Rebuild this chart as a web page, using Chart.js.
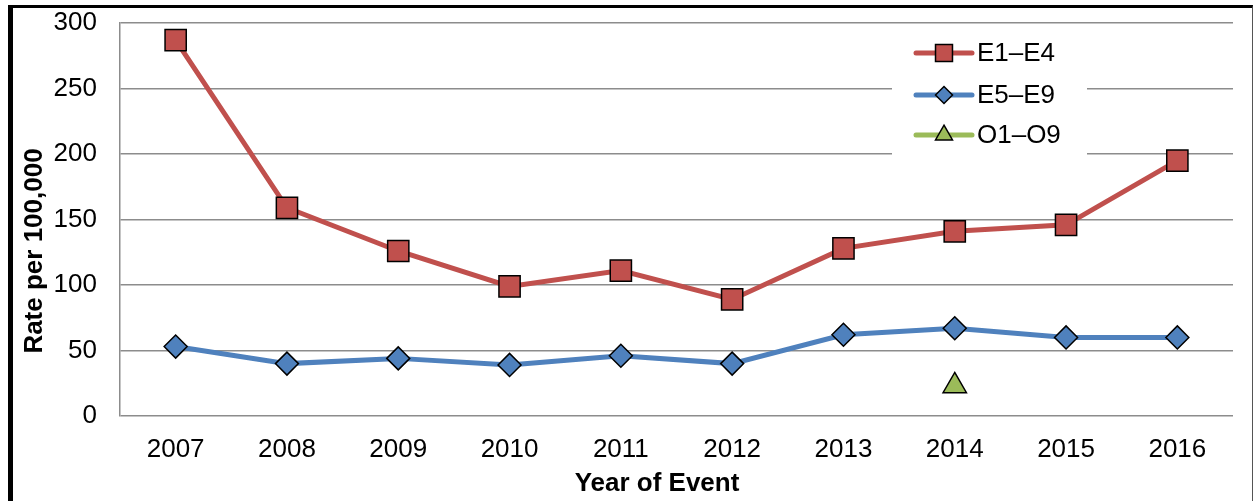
<!DOCTYPE html>
<html>
<head>
<meta charset="utf-8">
<script src="https://cdn.jsdelivr.net/npm/chart.js@4/dist/chart.umd.min.js"></script>
<style>
  html, body { margin: 0; padding: 0; background: #fff; }
  #wrap { position: relative; width: 1257px; height: 501px; }
  #frame {
    position: absolute; left: 8px; top: 5px; width: 1239px; height: 520px;
    border-top: 3px solid #000; border-left: 5px solid #000; border-right: 1px solid #555;
    pointer-events: none;
  }
</style>
</head>
<body>
<div id="wrap">
  <canvas id="grafico" width="1257" height="501"></canvas>
  <div id="frame"></div>
</div>
<script>
// --- DATOS ---
const years = ['2007', '2008', '2009', '2010', '2011', '2012', '2013', '2014', '2015', '2016'];
const e1e4 = [287, 159, 126, 99, 111, 89, 128, 141, 146, 195];
const e5e9 = [53, 40, 44, 39, 46, 40, 62, 67, 60, 60];
const o1o9 = [null, null, null, null, null, null, null, 23, null, null];
const seriesNames = ['E1\u2013E4', 'E5\u2013E9', 'O1\u2013O9'];
const xTitle = 'Year of Event';
const yTitle = 'Rate per 100,000';

const FONT = '"Liberation Sans", Arial, sans-serif';

// leyenda y títulos dibujados a mano, como en Excel
const excelPlugin = {
    id: 'excelExtras',
    afterDraw(chart) {
        const ctx = chart.ctx;
        ctx.save();

        // títulos de ejes (no centrados en el área, como el original)
        ctx.fillStyle = '#000';
        ctx.font = 'bold 26px ' + FONT;
        ctx.textAlign = 'center';
        ctx.textBaseline = 'middle';
        ctx.fillText(xTitle, 657, 484);
        ctx.save();
        ctx.translate(35, 251);
        ctx.rotate(-Math.PI / 2);
        ctx.fillText(yTitle, 0, 0);
        ctx.restore();

        // caja de leyenda
        ctx.fillStyle = '#fff';
        ctx.fillRect(892, 24, 195, 131);
        const rows = [53, 95, 135];
        const sizes = [12, 8.5, 9.8];
        chart.data.datasets.forEach((ds, i) => {
            const y = rows[i];
            ctx.strokeStyle = ds.borderColor;
            ctx.lineWidth = 5;
            ctx.lineCap = 'round';
            ctx.beginPath();
            ctx.moveTo(916, y);
            ctx.lineTo(972, y);
            ctx.stroke();
            ctx.fillStyle = ds.pointBackgroundColor;
            ctx.strokeStyle = '#000';
            ctx.lineWidth = 1.5;
            Chart.helpers.drawPoint(ctx, {
                pointStyle: ds.pointStyle, radius: sizes[i], rotation: 0, borderWidth: 1.5
            }, 944, y);
            ctx.fillStyle = '#000';
            ctx.font = '26px ' + FONT;
            ctx.textBaseline = 'middle';
            ctx.textAlign = 'left';
            ctx.fillText(ds.label, 977, y + 1);
        });
        ctx.restore();
    }
};

new Chart(document.getElementById('grafico'), {
    type: 'line',
    data: {
        labels: years,
        datasets: [
            {
                label: seriesNames[0], data: e1e4,
                borderColor: '#C0504D', backgroundColor: '#C0504D',
                pointBackgroundColor: '#C0504D', pointBorderColor: '#000',
                pointStyle: 'rect', pointRadius: 15, pointBorderWidth: 1.5,
                borderWidth: 5, tension: 0
            },
            {
                label: seriesNames[1], data: e5e9,
                borderColor: '#4F81BD', backgroundColor: '#4F81BD',
                pointBackgroundColor: '#4F81BD', pointBorderColor: '#000',
                pointStyle: 'rectRot', pointRadius: 11.5, pointBorderWidth: 1.5,
                borderWidth: 5, tension: 0
            },
            {
                label: seriesNames[2], data: o1o9,
                borderColor: '#9BBB59', backgroundColor: '#9BBB59',
                pointBackgroundColor: '#9BBB59', pointBorderColor: '#000',
                pointStyle: 'triangle', pointRadius: 13.5, pointBorderWidth: 1.5,
                borderWidth: 5, tension: 0
            }
        ]
    },
    options: {
        responsive: false,
        animation: false,
        layout: { padding: { top: 0, right: 24, left: 0, bottom: 0 } },
        plugins: {
            legend: { display: false },
            tooltip: { enabled: false }
        },
        scales: {
            x: {
                offset: true,
                grid: { display: false },
                border: { display: false },
                ticks: { color: '#000', font: { family: FONT, size: 26 }, padding: 10, maxRotation: 0 },
                afterFit(scale) { scale.height = 85; }
            },
            y: {
                min: 0, max: 300,
                grid: { color: '#8c8c8c', lineWidth: 1.5, drawTicks: false },
                border: { display: true, color: '#8c8c8c', width: 1.5 },
                // lineHeight mínimo para que el relleno superior no empuje el área
                ticks: { stepSize: 50, color: '#000', font: { family: FONT, size: 26, lineHeight: 0.01 }, padding: 23 },
                afterFit(scale) { scale.width = 120; }
            }
        }
    },
    plugins: [excelPlugin]
});
</script>
</body>
</html>
